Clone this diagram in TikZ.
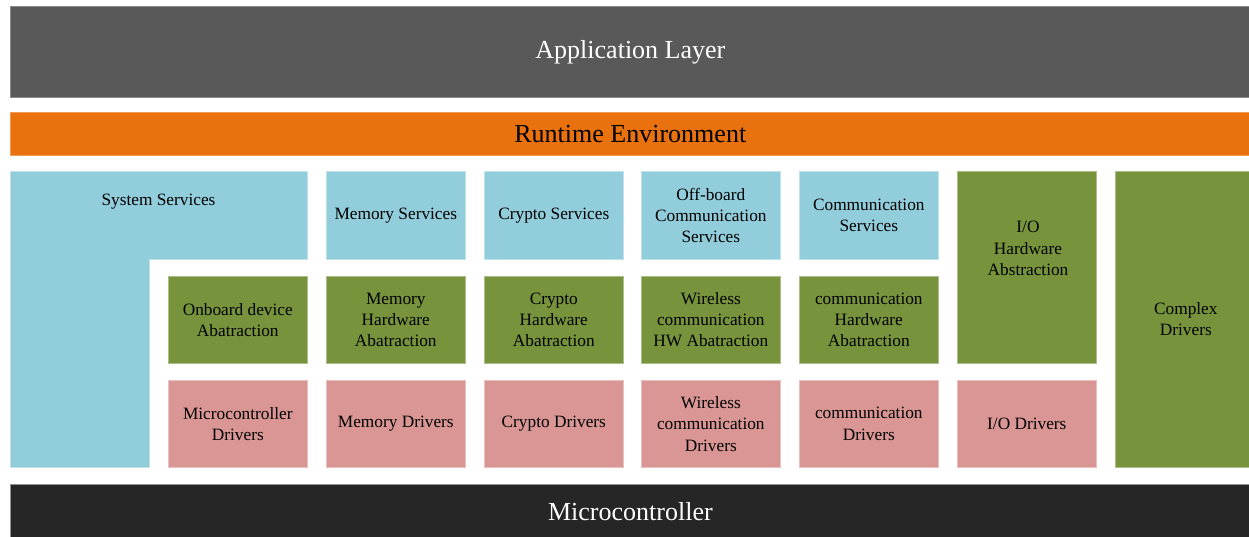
\documentclass[tikz,border=0pt]{standalone}
\usepackage{fontspec}
\setmainfont{Liberation Serif}
\definecolor{appgray}{HTML}{595959}
\definecolor{rteorange}{HTML}{E9710E}
\definecolor{svcblue}{HTML}{92CDDC}
\definecolor{hwgreen}{HTML}{77933C}
\definecolor{drvpink}{HTML}{D99694}
\definecolor{mcublack}{HTML}{262626}
\tikzset{
  layer/.style={anchor=north west, inner sep=0pt, align=center,
    font=\fontsize{26}{30}\selectfont},
  blk/.style={anchor=north west, inner sep=0pt, align=center, text=black,
    font=\fontsize{17.3}{21.3}\selectfont},
  svc/.style={blk, fill=svcblue, draw=svcblue!60!white, line width=0.6pt},
  hw/.style={blk, fill=hwgreen, draw=hwgreen!60!white, line width=0.6pt},
  drv/.style={blk, fill=drvpink, draw=drvpink!60!white, line width=0.6pt},
  lbl/.style={inner sep=0pt, align=center, font=\fontsize{17.3}{21.3}\selectfont},
}
\begin{document}
\begin{tikzpicture}[x=1pt,y=-1pt]
\useasboundingbox (0,0) rectangle (1249,536);
\fill[white] (0,0) rectangle (1249,536);

% top layers
\node[layer, fill=appgray, draw=appgray!70!white, line width=0.8pt, text=white,
  minimum width=1240pt, minimum height=91pt] (app) at (10,6) {Application Layer};
\node[layer, fill=rteorange, draw=rteorange!70!white, line width=0.6pt, text=black,
  minimum width=1240pt, minimum height=43pt] (rte) at (10,112) {Runtime Environment};

% system services (L-shaped block)
\filldraw[fill=svcblue, draw=svcblue!60!white, line width=0.6pt]
  (10,171) -- (307,171) -- (307,259) -- (149,259) -- (149,467) -- (10,467) -- cycle;
\node[lbl] (syssvc) at (158.5,201.5) {System Services};

% first column next to system services
\node[hw, minimum width=139pt, minimum height=87pt] (onboard) at (168,276)
  {Onboard device\\Abatraction};
\node[drv, minimum width=139pt, minimum height=87pt] (mcudrv) at (168,380)
  {Microcontroller\\Drivers};

% memory stack
\node[svc, minimum width=139pt, minimum height=88pt] (memsvc) at (326,171) {Memory Services};
\node[hw, minimum width=139pt, minimum height=87pt] (memhw) at (326,276)
  {Memory\\Hardware\\Abatraction};
\node[drv, minimum width=139pt, minimum height=87pt] (memdrv) at (326,380) {Memory Drivers};

% crypto stack
\node[svc, minimum width=139pt, minimum height=88pt] (crysvc) at (484,171) {Crypto Services};
\node[hw, minimum width=139pt, minimum height=87pt] (cryhw) at (484,276)
  {Crypto\\Hardware\\Abatraction};
\node[drv, minimum width=139pt, minimum height=87pt] (crydrv) at (484,380) {Crypto Drivers};

% wireless stack
\node[svc, minimum width=139pt, minimum height=88pt] (offsvc) at (641,171)
  {Off-board\\Communication\\Services};
\node[hw, minimum width=139pt, minimum height=87pt] (wlhw) at (641,276)
  {Wireless\\communication\\HW Abatraction};
\node[drv, minimum width=139pt, minimum height=87pt] (wldrv) at (641,380)
  {Wireless\\communication\\Drivers};

% communication stack
\node[svc, minimum width=139pt, minimum height=88pt] (comsvc) at (799,171)
  {Communication\\Services};
\node[hw, minimum width=139pt, minimum height=87pt] (comhw) at (799,276)
  {communication\\Hardware\\Abatraction};
\node[drv, minimum width=139pt, minimum height=87pt] (comdrv) at (799,380)
  {communication\\Drivers};

% I/O stack
\node[hw, minimum width=139pt, minimum height=192pt] (iohw) at (957,171) {};
\node[lbl] (iohwtext) at (1028,248.5) {I/O\\Hardware\\Abstraction};
\node[drv, minimum width=139pt, minimum height=87pt] (iodrv) at (957,380) {I/O Drivers};

% complex drivers
\node[hw, minimum width=136pt, minimum height=296pt, text width=136pt] (cdd) at (1115,171)
  {\hspace*{5pt}Complex\\\hspace*{5pt}Drivers};

% hardware
\node[layer, fill=mcublack, draw=mcublack!50!white, line width=0.8pt, text=white,
  minimum width=1240pt, minimum height=54pt] (mcu) at (10,484) {Microcontroller};
\end{tikzpicture}
\end{document}
